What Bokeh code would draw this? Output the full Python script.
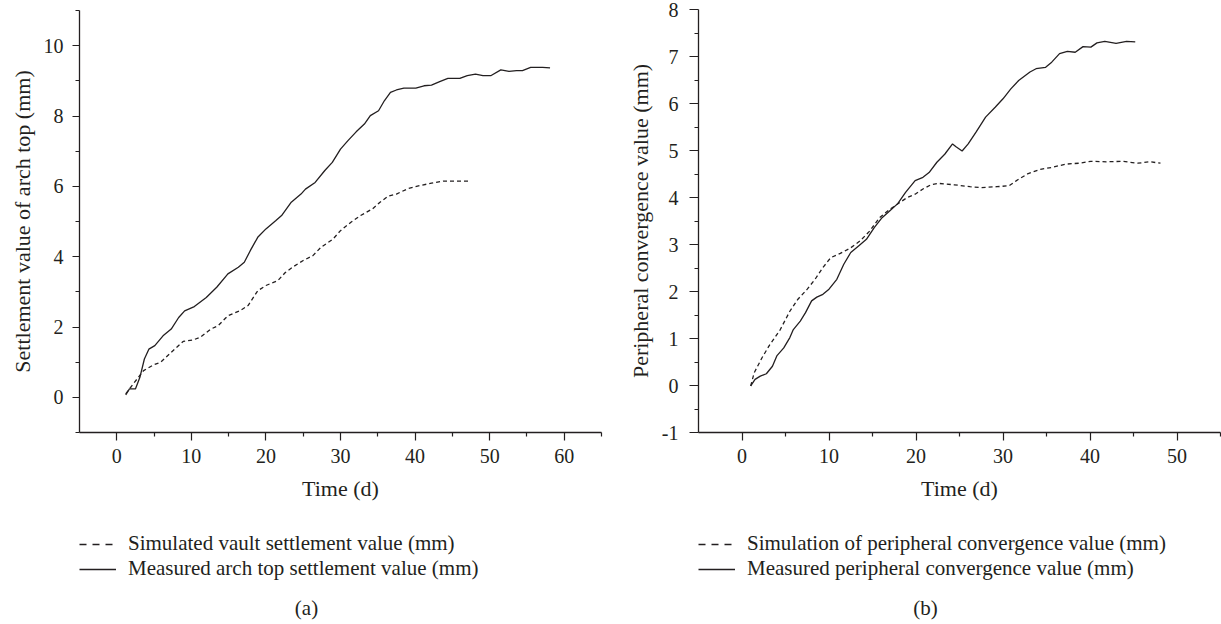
from bokeh.plotting import figure
from bokeh.layouts import row, column
from bokeh.models import Range1d, FixedTicker, Legend, LegendItem, Label
from bokeh.embed import file_html
from bokeh.resources import INLINE

# ---------------- data (a): settlement of arch top ----------------
a_meas_t = [1.2, 1.7, 2.5, 3.1, 3.7, 4.3, 5.1, 6.2, 7.3, 8.3, 9.1, 10.4, 12.0, 13.4, 14.9,
            16.3, 17.1, 17.9, 18.9, 20.0, 21.3, 22.1, 23.4, 24.7, 25.3, 26.6, 27.9, 28.9,
            30.0, 31.0, 32.1, 33.2, 34.0, 35.1, 35.9, 36.7, 37.5, 38.5, 40.1, 41.2, 42.2,
            43.3, 44.4, 46.0, 47.0, 48.1, 49.1, 50.2, 51.5, 52.6, 53.6, 54.4, 55.5, 57.1, 58.1]
a_meas_v = [0.07, 0.24, 0.24, 0.57, 1.09, 1.37, 1.47, 1.75, 1.94, 2.27, 2.46, 2.58, 2.84, 3.13, 3.51,
            3.70, 3.84, 4.17, 4.55, 4.79, 5.02, 5.17, 5.55, 5.78, 5.92, 6.11, 6.45, 6.68,
            7.06, 7.30, 7.55, 7.77, 8.01, 8.15, 8.44, 8.67, 8.74, 8.79, 8.79, 8.86, 8.88,
            8.98, 9.07, 9.07, 9.15, 9.19, 9.15, 9.15, 9.31, 9.27, 9.29, 9.29, 9.38, 9.38, 9.37]
a_sim_t = [1.2, 2.2, 3.6, 4.9, 5.9, 7.3, 8.9, 10.2, 11.2, 12.6, 13.6, 14.9, 16.5, 17.6, 18.9,
           20.0, 21.6, 22.6, 23.7, 25.0, 26.3, 27.4, 29.0, 30.0, 31.4, 32.7, 34.3, 35.3, 36.4,
           37.5, 39.1, 40.6, 42.2, 43.8, 45.4, 47.5]
a_sim_v = [0.10, 0.38, 0.76, 0.92, 1.00, 1.28, 1.59, 1.63, 1.71, 1.94, 2.04, 2.32, 2.46, 2.61, 3.03,
           3.18, 3.32, 3.55, 3.72, 3.89, 4.03, 4.27, 4.50, 4.74, 4.98, 5.17, 5.36, 5.55, 5.72,
           5.78, 5.94, 6.02, 6.09, 6.15, 6.15, 6.15]

# ---------------- data (b): peripheral convergence ----------------
b_meas_t = [1.0, 1.5, 2.1, 2.8, 3.5, 4.0, 4.8, 5.5, 5.9, 6.7, 7.3, 8.0, 8.6, 9.3, 10.0, 10.9,
            11.7, 12.5, 13.4, 14.3, 15.2, 16.1, 17.0, 17.9, 18.8, 19.9, 20.8, 21.5, 22.4, 23.3,
            24.2, 24.6, 25.3, 26.0, 26.9, 28.0, 29.1, 30.0, 30.9, 31.8, 33.1, 33.8, 34.9, 35.6,
            36.5, 37.4, 38.3, 39.2, 40.1, 40.8, 41.7, 43.0, 44.2, 45.2]
b_meas_v = [-0.01, 0.13, 0.20, 0.25, 0.41, 0.63, 0.80, 1.02, 1.19, 1.37, 1.55, 1.80, 1.88, 1.94, 2.05, 2.26,
            2.58, 2.83, 2.97, 3.11, 3.36, 3.57, 3.72, 3.87, 4.11, 4.36, 4.43, 4.53, 4.75, 4.92,
            5.14, 5.08, 4.99, 5.14, 5.39, 5.71, 5.92, 6.10, 6.31, 6.49, 6.67, 6.74, 6.77, 6.88,
            7.06, 7.11, 7.09, 7.21, 7.20, 7.29, 7.32, 7.28, 7.32, 7.31]
b_sim_t = [1.0, 1.4, 2.3, 3.2, 4.4, 5.5, 6.4, 7.5, 8.4, 9.3, 10.2, 11.3, 12.5, 13.6, 14.7, 15.8,
           17.0, 18.1, 19.0, 19.9, 20.8, 21.7, 22.6, 24.4, 26.2, 27.5, 29.3, 30.7, 31.8, 32.9,
           34.3, 35.6, 37.2, 38.8, 40.1, 41.9, 43.7, 45.5, 46.9, 48.1]
b_sim_v = [-0.01, 0.27, 0.59, 0.87, 1.19, 1.58, 1.83, 2.05, 2.26, 2.51, 2.72, 2.81, 2.93, 3.08, 3.29, 3.57,
           3.75, 3.89, 4.00, 4.07, 4.18, 4.27, 4.30, 4.27, 4.23, 4.21, 4.23, 4.25, 4.39, 4.51,
           4.60, 4.64, 4.71, 4.73, 4.77, 4.76, 4.77, 4.73, 4.76, 4.73]

# ---------------- axes / labels ----------------
a_x_ticks = [0, 10, 20, 30, 40, 50, 60]
a_x_minor = [5, 15, 25, 35, 45, 55, 65]
a_y_ticks = [0, 2, 4, 6, 8, 10]
a_y_minor = [-1, 1, 3, 5, 7, 9, 11]
b_x_ticks = [0, 10, 20, 30, 40, 50]
b_x_minor = [5, 15, 25, 35, 45, 55]
b_y_ticks = [-1, 0, 1, 2, 3, 4, 5, 6, 7, 8]
b_y_minor = [-0.5, 0.5, 1.5, 2.5, 3.5, 4.5, 5.5, 6.5, 7.5]

a_ylabel = "Settlement value of arch top (mm)"
b_ylabel = "Peripheral convergence value (mm)"
xlabel = "Time (d)"
a_legend = ["Simulated vault settlement value (mm)", "Measured arch top settlement value (mm)"]
b_legend = ["Simulation of peripheral convergence value (mm)", "Measured peripheral convergence value (mm)"]

FONT = "Liberation Serif"
INK = "#231f20"
TICK_FS = "20px"
AX_FS = "22px"
FS = "21px"
MAIN_H = 512
LEG_H = 624 - MAIN_H


def panel(xr, yr, xt, xm, yt, ym, ylabel, sim_t, sim_v, meas_t, meas_v, leg, tag,
          width, bl, br, bt, fh, ytick_out, ystand, ylab_stand):
    p = figure(width=width, height=MAIN_H, output_backend="svg", toolbar_location=None,
               x_range=Range1d(*xr), y_range=Range1d(*yr),
               min_border_left=bl, min_border_right=br, min_border_top=bt,
               min_border_bottom=MAIN_H - bt - fh)
    p.outline_line_color = None
    p.grid.visible = False
    p.background_fill_color = "white"
    p.border_fill_color = "white"

    p.line(sim_t, sim_v, line_color=INK, line_width=1.3, line_dash="4 3")
    p.line(meas_t, meas_v, line_color=INK, line_width=1.3)

    for ax in (p.xaxis[0], p.yaxis[0]):
        ax.axis_line_color = INK
        ax.axis_line_width = 1.3
        ax.major_tick_line_color = INK
        ax.minor_tick_line_color = INK
        ax.major_tick_line_width = 1.2
        ax.minor_tick_line_width = 1.2
        ax.major_tick_in = 0
        ax.minor_tick_in = 0
        ax.minor_tick_out = 4
        ax.major_label_text_font = FONT
        ax.major_label_text_font_size = TICK_FS
        ax.major_label_text_color = INK
        ax.axis_label_text_font = FONT
        ax.axis_label_text_font_size = AX_FS
        ax.axis_label_text_font_style = "normal"
        ax.axis_label_text_color = INK

    p.xaxis.ticker = FixedTicker(ticks=xt, minor_ticks=xm)
    p.yaxis.ticker = FixedTicker(ticks=yt, minor_ticks=ym)
    p.yaxis.major_label_overrides = {-1: "-1"}
    p.xaxis.major_tick_out = 8
    p.xaxis.major_label_standoff = 8
    p.xaxis.axis_label = xlabel
    p.xaxis.axis_label_standoff = 10
    p.yaxis.major_tick_out = ytick_out
    p.yaxis.major_label_standoff = ystand
    p.yaxis.axis_label = ylabel
    p.yaxis.axis_label_standoff = ylab_stand

    # legend + panel tag strip underneath (frame is aligned with the plot frame above)
    fw = width - bl - br
    q = figure(width=width, height=LEG_H, output_backend="svg", toolbar_location=None,
               x_range=Range1d(0, fw), y_range=Range1d(0, LEG_H),
               x_axis_location=None, y_axis_location=None,
               min_border_left=bl, min_border_right=br, min_border_top=0, min_border_bottom=0)
    q.outline_line_color = None
    q.grid.visible = False
    q.background_fill_color = "white"
    q.border_fill_color = "white"
    # legend keys carry the series but are not drawn in this strip
    s1 = q.line(sim_t, sim_v, line_color=INK, line_width=1.3, line_dash="7 6", visible=False)
    s2 = q.line(meas_t, meas_v, line_color=INK, line_width=1.3, visible=False)
    legend = Legend(items=[LegendItem(label=leg[0], renderers=[s1]),
                           LegendItem(label=leg[1], renderers=[s2])],
                    location=(0, 43), orientation="vertical",
                    border_line_color=None, background_fill_alpha=0,
                    inactive_fill_alpha=0,
                    padding=1, margin=0, spacing=-4,
                    glyph_width=37, glyph_height=20, label_height=20,
                    label_standoff=12,
                    label_text_font=FONT, label_text_font_size=FS,
                    label_text_color=INK)
    q.add_layout(legend)
    q.add_layout(Label(x=fw / 2 - 34, y=17, text=tag,
                       text_align="center", text_baseline="middle",
                       text_font=FONT, text_font_size=FS, text_color=INK))
    return column(p, q, spacing=0)


pa = panel((-5, 65), (-1, 11), a_x_ticks, a_x_minor, a_y_ticks, a_y_minor, a_ylabel,
           a_sim_t, a_sim_v, a_meas_t, a_meas_v, a_legend, "(a)",
           610, 79, 9, 10, 422, 7, 9, 6)
pb = panel((-5, 55), (-1, 8), b_x_ticks, b_x_minor, b_y_ticks, b_y_minor, b_ylabel,
           b_sim_t, b_sim_v, b_meas_t, b_meas_v, b_legend, "(b)",
           611, 88, 1, 9, 423, 9, 11, 6)

layout = row(pa, pb, spacing=0)
open("out.html", "w").write(file_html(layout, INLINE))
